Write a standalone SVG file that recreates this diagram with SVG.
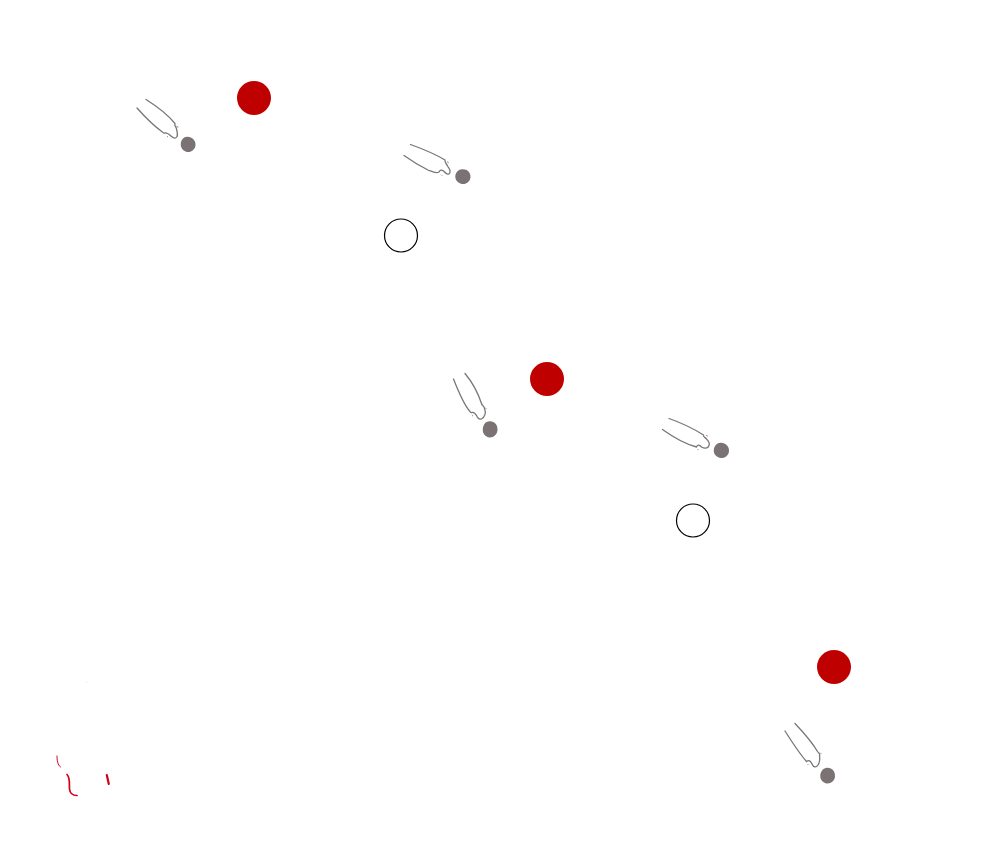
<svg xmlns="http://www.w3.org/2000/svg" width="993" height="851" viewBox="0 0 993 851">
<style>
.hand{fill:none;stroke:#7a7676;stroke-width:1.3;stroke-linecap:round;stroke-linejoin:round}
.tick{fill:none;stroke:#555;stroke-width:.8;stroke-linecap:round}
.blob{fill:#7b7373}
.red{fill:#bf0000}
.open{fill:#fff;stroke:#000;stroke-width:1.2}
.mark{fill:none;stroke:#d40018;stroke-linecap:round}
</style>
<rect width="993" height="851" fill="#fff"/>
<g id="hand-1">
<path class="hand" d="M146,99.500C158,107 168,115 175,123.500C174,126 176.500,127 176.500,129C177.500,133 178.500,137 175.500,138C172,139 170.500,134.500 167.500,133.500C165,132 164,134 163,132.500C154,126 145,117 137,108"/>
<path class="tick" d="M177,126.500L178,127M167.300,136.500L167.600,136.800"/>
<path class="blob" d="M187,136.800C192,136.500 195.800,140.500 195.500,145C195.300,149.500 191.500,152.300 187.500,152C183.500,151.500 180.300,148 180.800,143.500C181.300,139.500 183.500,137 187,136.800Z"/>
</g>
<g id="hand-2">
<path class="hand" d="M410.500,144.500C423,149 435,154 445,160C444.500,163 447,164 447.500,166C449,168.500 451,170 450,172.500C448.500,176 445.500,173 443.500,171C441.500,169.500 440,170 439,172C436,174 432,171.500 428,170C419,165.500 411,160.500 404,155.500"/>
<path class="tick" d="M447.500,162L448.300,162.500M441.500,175L441.800,175.300"/>
<path class="blob" d="M462,169.300C467,168.800 470.800,172.500 470.500,177C470.300,181.500 466.500,184.300 462.500,184C458,183.500 455,180 455.300,176C455.800,172 458.500,169.500 462,169.300Z"/>
</g>
<g id="hand-3">
<path class="hand" d="M465,373.500C473,383 478,393 481.500,403.500C482,405.500 484,406 484.500,408.500C485.500,411.500 485.500,414 484.500,415.500C483,419.500 480,420 478,418C476,415 475.500,412 472,412.500C471,413 470.500,412.500 470,411.500C464,405 459,393 453.500,379"/>
<path class="tick" d="M485.500,408L486,408.500M472.300,415.500L472.600,415.800"/>
<path class="blob" d="M489.500,421.300C494.500,421 497.800,425 497.500,430C497.300,434.500 493.500,437.800 489.500,437.500C485.500,437 482.300,433.500 482.800,429C483.300,424.500 485.500,421.500 489.500,421.300Z"/>
</g>
<g id="hand-4">
<path class="hand" d="M669,418.500C682,423 694,429 703.500,435C703,437 705.500,437.500 706.500,439C708.500,441 710,443 709,445.500C708,449 704,448.500 701.500,447C699.500,444.500 697.500,444.500 696.500,447C685,444 673,437 662.500,429.500"/>
<path class="tick" d="M706.500,435.500L707.300,436M698,449.500L698.300,449.800"/>
<path class="blob" d="M720.500,442.800C725.500,442.500 729.300,446.500 729,451C728.800,455.500 725,458.300 721,458C716.500,457.500 713.300,454 713.800,450C714.300,445.500 717,443 720.500,442.800Z"/>
</g>
<g id="hand-5">
<path class="hand" d="M795,723.500C804,733 812,742 817.500,751.500C818.500,753 820.500,753.500 819.500,756C820,759 820,762 818,765C816,768 813.500,767.500 812,764C810.500,761 809,759.500 806.500,761.500C799,753 792,742 785,731"/>
<path class="tick" d="M820.500,753L821,753.500M808,764.500L808.300,764.800"/>
<path class="blob" d="M827,767.800C832,767.500 835.300,771.500 835,776.500C834.800,780.500 831,783.800 827,783.500C823,783 819.800,779.500 820.300,775C820.800,771 823.500,768 827,767.800Z"/>
</g>
<g id="node-red-1"><circle class="red" cx="254" cy="98" r="17"/></g>
<g id="node-red-2"><circle class="red" cx="547" cy="379" r="17"/></g>
<g id="node-red-3"><circle class="red" cx="834" cy="667" r="17"/></g>
<g id="node-open-1"><circle class="open" cx="401" cy="235.500" r="16.500"/></g>
<g id="node-open-2"><circle class="open" cx="693" cy="520.500" r="16.500"/></g>
<g id="red-marks">
<path class="mark" stroke-width="1" d="M57,756C57,760 57.500,765 60.500,767"/>
<path class="mark" stroke-width="1.700" d="M67,774.500C70.500,778 69,784 69.500,789C70,794 73,795.500 77,795.500"/>
<path class="mark" stroke-width="2.200" d="M106.800,775L108.800,784"/>
<circle cx="87" cy="682" r=".5" fill="#ddd"/>
</g>
</svg>
